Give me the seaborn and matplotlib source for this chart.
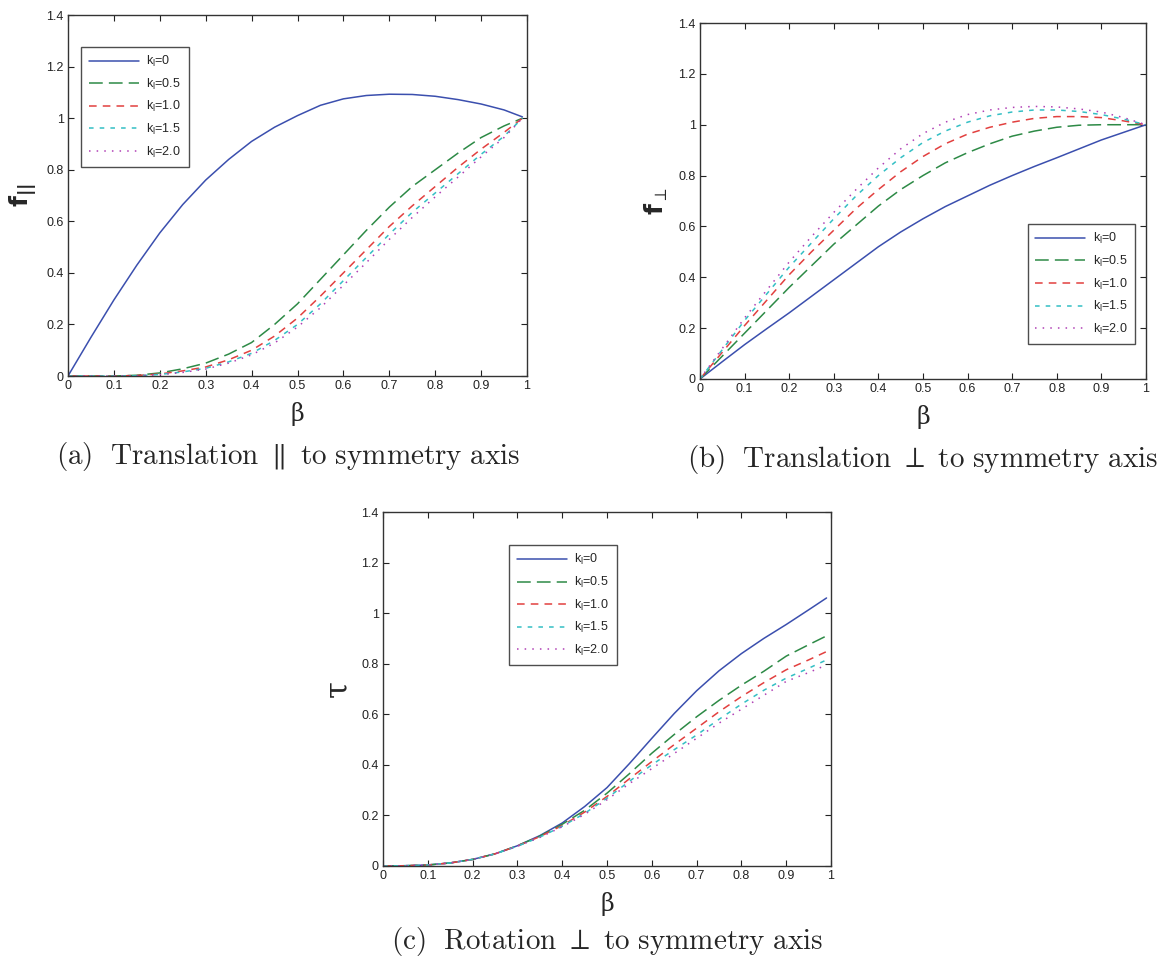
import numpy as np
import pandas as pd
import matplotlib
matplotlib.use("Agg")
import matplotlib.pyplot as plt
from matplotlib.ticker import FormatStrFormatter
import seaborn as sns

# k_l values and their look
k_labels = ["k$_\\mathregular{l}$=0", "k$_\\mathregular{l}$=0.5", "k$_\\mathregular{l}$=1.0",
            "k$_\\mathregular{l}$=1.5", "k$_\\mathregular{l}$=2.0"]
colors = ["#3b4fae", "#2d8a46", "#e2403f", "#33bfc4", "#b03fb5"]
styles = ["-", (0, (9, 4)), (0, (5, 4)), (0, (3, 4)), (0, (1, 4))]

# (a) translation parallel
beta_a = [0, 0.05, 0.1, 0.15, 0.2, 0.25, 0.3, 0.35, 0.4, 0.45, 0.5, 0.55, 0.6, 0.65,
          0.7, 0.75, 0.8, 0.85, 0.9, 0.95, 0.99]
fpar_k0 = [0, 0.15, 0.295, 0.43, 0.555, 0.665, 0.76, 0.84, 0.91, 0.965, 1.01, 1.05,
           1.075, 1.088, 1.093, 1.092, 1.085, 1.072, 1.055, 1.032, 1.005]
fpar_k05 = [0, 0, 0, 0.003, 0.012, 0.028, 0.05, 0.085, 0.13, 0.2, 0.28, 0.375, 0.47,
            0.565, 0.655, 0.735, 0.8, 0.865, 0.925, 0.97, 1.0]
fpar_k10 = [0, 0, 0, 0.002, 0.008, 0.02, 0.035, 0.063, 0.1, 0.155, 0.225, 0.31, 0.4,
            0.49, 0.58, 0.66, 0.735, 0.81, 0.88, 0.945, 1.0]
fpar_k15 = [0, 0, 0, 0.001, 0.006, 0.016, 0.03, 0.055, 0.088, 0.138, 0.2, 0.28, 0.37,
            0.46, 0.55, 0.635, 0.71, 0.785, 0.86, 0.93, 1.0]
fpar_k20 = [0, 0, 0, 0.001, 0.005, 0.014, 0.027, 0.05, 0.082, 0.128, 0.19, 0.265, 0.352,
            0.44, 0.53, 0.615, 0.695, 0.772, 0.85, 0.925, 1.0]

# (b) translation perpendicular
beta_b = [0, 0.05, 0.1, 0.15, 0.2, 0.25, 0.3, 0.35, 0.4, 0.45, 0.5, 0.55, 0.6, 0.65,
          0.7, 0.75, 0.8, 0.85, 0.9, 0.95, 1.0]
fperp_k0 = [0, 0.068, 0.135, 0.198, 0.26, 0.325, 0.39, 0.455, 0.52, 0.578, 0.63, 0.678,
            0.72, 0.762, 0.8, 0.836, 0.87, 0.905, 0.94, 0.97, 1.0]
fperp_k05 = [0, 0.09, 0.18, 0.27, 0.36, 0.445, 0.53, 0.605, 0.68, 0.745, 0.8, 0.85,
             0.89, 0.925, 0.955, 0.975, 0.99, 0.998, 1.0, 1.0, 1.0]
fperp_k10 = [0, 0.105, 0.21, 0.31, 0.41, 0.5, 0.585, 0.67, 0.745, 0.815, 0.875, 0.925,
             0.963, 0.99, 1.01, 1.025, 1.032, 1.032, 1.028, 1.015, 1.0]
fperp_k15 = [0, 0.115, 0.23, 0.335, 0.44, 0.535, 0.63, 0.72, 0.8, 0.87, 0.93, 0.975,
             1.01, 1.035, 1.05, 1.058, 1.058, 1.052, 1.04, 1.022, 1.0]
fperp_k20 = [0, 0.12, 0.24, 0.35, 0.46, 0.56, 0.655, 0.745, 0.83, 0.905, 0.965, 1.01,
             1.04, 1.058, 1.068, 1.072, 1.07, 1.062, 1.05, 1.028, 1.0]

# (c) rotation perpendicular
beta_c = beta_a
tau_k0 = [0, 0.001, 0.004, 0.012, 0.026, 0.048, 0.08, 0.12, 0.17, 0.235, 0.31, 0.405,
          0.505, 0.603, 0.693, 0.772, 0.84, 0.9, 0.955, 1.013, 1.06]
tau_k05 = [0, 0.001, 0.004, 0.012, 0.026, 0.048, 0.08, 0.118, 0.165, 0.22, 0.288, 0.365,
           0.446, 0.52, 0.59, 0.655, 0.715, 0.77, 0.83, 0.875, 0.91]
tau_k10 = [0, 0.001, 0.004, 0.012, 0.026, 0.048, 0.079, 0.116, 0.16, 0.213, 0.275, 0.345,
           0.413, 0.48, 0.545, 0.61, 0.67, 0.725, 0.776, 0.815, 0.848]
tau_k15 = [0, 0.001, 0.004, 0.012, 0.026, 0.048, 0.078, 0.114, 0.157, 0.208, 0.268, 0.335,
           0.4, 0.46, 0.518, 0.58, 0.64, 0.695, 0.743, 0.782, 0.815]
tau_k20 = [0, 0.001, 0.004, 0.012, 0.026, 0.048, 0.078, 0.113, 0.155, 0.204, 0.262, 0.326,
           0.385, 0.445, 0.505, 0.565, 0.62, 0.675, 0.73, 0.765, 0.795]

sns.set_theme(style="ticks")
plt.rcParams["font.family"] = ["Liberation Sans", "DejaVu Sans"]
plt.rcParams["xtick.direction"] = "in"
plt.rcParams["ytick.direction"] = "in"

fig = plt.figure(figsize=(11.66, 9.59), dpi=100)
ax_a = fig.add_axes([0.0583, 0.6079, 0.3937, 0.3764])
ax_b = fig.add_axes([0.6003, 0.6048, 0.3825, 0.3712])
ax_c = fig.add_axes([0.3285, 0.0970, 0.3842, 0.3691])

panels = [
    (ax_a, beta_a, [fpar_k0, fpar_k05, fpar_k10, fpar_k15, fpar_k20],
     r"$\mathbf{f}_{\mathbf{||}}$", r"$\mathrm{(a)\ \ Translation}\ \parallel\ \mathrm{to\ symmetry\ axis}$",
     (0.48, -0.222), dict(loc="upper left", bbox_to_anchor=(0.015, 0.93))),
    (ax_b, beta_b, [fperp_k0, fperp_k05, fperp_k10, fperp_k15, fperp_k20],
     r"$\mathbf{f}_{\perp}$", r"$\mathrm{(b)\ \ Translation}\ \perp\ \mathrm{to\ symmetry\ axis}$",
     (0.5, -0.226), dict(loc="lower right", bbox_to_anchor=(0.99, 0.08))),
    (ax_c, beta_c, [tau_k0, tau_k05, tau_k10, tau_k15, tau_k20],
     "τ", r"$\mathrm{(c)\ \ Rotation}\ \perp\ \mathrm{to\ symmetry\ axis}$",
     (0.5, -0.212), dict(loc="upper left", bbox_to_anchor=(0.268, 0.925))),
]

for ax, beta, series, ylab, caption, cap_xy, leg_kw in panels:
    for vals, lab, col, ls in zip(series, k_labels, colors, styles):
        sns.lineplot(x=beta, y=vals, ax=ax, color=col, linestyle=ls, linewidth=1.1, label=lab)
    ax.set_xlim(0, 1)
    ax.set_ylim(0, 1.4)
    ax.set_xticks(np.arange(0, 1.01, 0.1))
    ax.set_yticks(np.arange(0, 1.41, 0.2))
    ax.xaxis.set_major_formatter(FormatStrFormatter("%g"))
    ax.yaxis.set_major_formatter(FormatStrFormatter("%g"))
    ax.tick_params(axis="both", labelsize=9, length=4, width=0.8, colors="#222222",
                   top=True, right=True, pad=3)
    for sp in ax.spines.values():
        sp.set_visible(True)
        sp.set_color("#333333")
        sp.set_linewidth(1.0)
    ax.set_xlabel("β", fontsize=17, family="DejaVu Serif", labelpad=7)
    if ylab == "τ":
        ax.set_ylabel(ylab, fontsize=22, family="DejaVu Serif", labelpad=6)
    else:
        ax.set_ylabel(ylab, fontsize=18, math_fontfamily="dejavusans", labelpad=6)
    ax.text(cap_xy[0], cap_xy[1], caption, transform=ax.transAxes, ha="center", va="center",
            fontsize=21, math_fontfamily="cm")
    leg = ax.legend(fontsize=9, frameon=True, fancybox=False, edgecolor="#222222",
                    handlelength=4.0, labelspacing=0.6, borderpad=0.6,
                    handletextpad=0.6, **leg_kw)
    leg.get_frame().set_linewidth(1.0)

fig.savefig("out.png", dpi=100)
